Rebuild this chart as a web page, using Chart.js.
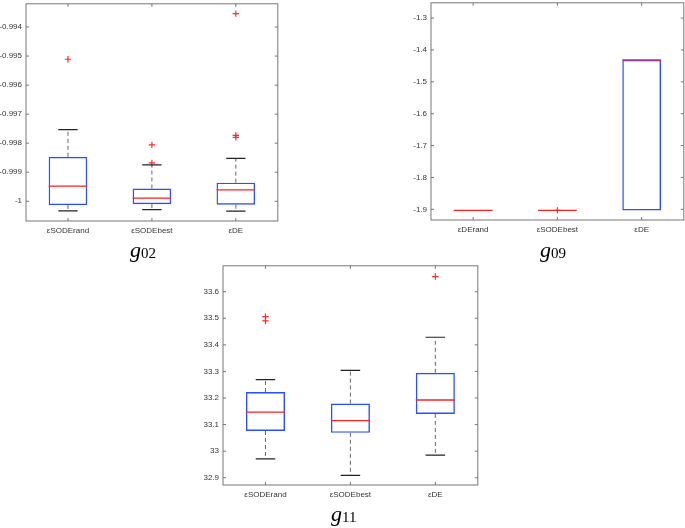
<!DOCTYPE html>
<html>
<head>
<meta charset="utf-8">
<script src="https://cdn.jsdelivr.net/npm/chart.js@4.4.0/dist/chart.umd.min.js"></script>
<style>
  body { margin:0; background:#fff; width:685px; height:528px; overflow:hidden; position:relative; }
  canvas { position:absolute; }
  .lbl { position:absolute; font-family:"Liberation Serif","Times New Roman",serif; color:#000; white-space:nowrap; line-height:22px; }
  .lbl i { font-size:22px; }
  .lbl span { font-size:15px; position:relative; top:1px; }
</style>
</head>
<body>
<canvas id="c1" width="283" height="246" style="left:0px;top:-5px"></canvas>
<canvas id="c2" width="298" height="246" style="left:391px;top:-6px"></canvas>
<canvas id="c3" width="300" height="248" style="left:183px;top:257px"></canvas>
<div class="lbl" style="left:130px;top:239px"><i>g</i><span>02</span></div>
<div class="lbl" style="left:540px;top:239px"><i>g</i><span>09</span></div>
<div class="lbl" style="left:331px;top:503px"><i>g</i><span>11</span></div>
<script>
// g02
const g02Labels = ['εSODErand', 'εSODEbest', 'εDE'];
const g02Min = [-1.00033, -1.00029, -1.00034];
const g02Q1  = [-1.00013, -1.00010, -1.00012];
const g02Med = [-0.99948, -0.99989, -0.99961];
const g02Q3  = [-0.99847, -0.99956, -0.99936];
const g02Max = [-0.99753, -0.99875, -0.99852];
const g02Out = [[-0.99511], [-0.99806, -0.99868], [-0.99354, -0.99773, -0.99780]];
const g02Ticks = [-1, -0.999, -0.998, -0.997, -0.996, -0.995, -0.994];
const g02Range = [-1.00068, -0.99320];

// g09
const g09Labels = ['εDErand', 'εSODEbest', 'εDE'];
const g09Min = [-1.9033, -1.9033, -1.9033];
const g09Q1  = [-1.9033, -1.9033, -1.9033];
const g09Med = [-1.9033, -1.9033, -1.4313];
const g09Q3  = [-1.9033, -1.9033, -1.4313];
const g09Max = [-1.9033, -1.9033, -1.4313];
const g09Out = [[], [-1.9033], []];
const g09Ticks = [-1.9, -1.8, -1.7, -1.6, -1.5, -1.4, -1.3];
const g09Range = [-1.9334, -1.2522];

// g11
const g11Labels = ['εSODErand', 'εSODEbest', 'εDE'];
const g11Min = [32.971, 32.909, 32.985];
const g11Q1  = [33.076, 33.069, 33.140];
const g11Med = [33.147, 33.115, 33.1925];
const g11Q3  = [33.2225, 33.179, 33.295];
const g11Max = [33.269, 33.304, 33.4286];
const g11Out = [[33.506, 33.490], [], [33.657]];
const g11Ticks = [32.9, 33, 33.1, 33.2, 33.3, 33.4, 33.5, 33.6];
const g11Range = [32.8726, 33.6975];

// box outline + inward ticks like matlab
const frame = {
  id: 'frame',
  afterDraw(chart) {
    const ctx = chart.ctx, a = chart.chartArea;
    const x = chart.scales.x, y = chart.scales.y;
    ctx.save();
    ctx.strokeStyle = '#777';
    ctx.lineWidth = 1;
    ctx.strokeRect(a.left, a.top, a.right - a.left, a.bottom - a.top);
    ctx.beginPath();
    y.ticks.forEach(t => {
      const py = y.getPixelForValue(t.value);
      ctx.moveTo(a.left, py); ctx.lineTo(a.left + 3, py);
      ctx.moveTo(a.right, py); ctx.lineTo(a.right - 3, py);
    });
    x.ticks.forEach((t, i) => {
      const px = x.getPixelForTick(i);
      ctx.moveTo(px, a.top); ctx.lineTo(px, a.top + 3);
      ctx.moveTo(px, a.bottom); ctx.lineTo(px, a.bottom - 3);
    });
    ctx.stroke();
    ctx.restore();
  }
};

// whiskers, caps and medians, placed from the bar elements
function boxParts(mins, meds, q1s, q3s, maxs) {
  return {
    id: 'boxParts',
    afterDatasetsDraw(chart) {
      const ctx = chart.ctx, y = chart.scales.y;
      const bars = chart.getDatasetMeta(0).data;
      ctx.save();
      bars.forEach((bar, i) => {
        const cx = bar.x, hw = bar.width / 2;
        const pMin = y.getPixelForValue(mins[i]);
        const pMax = y.getPixelForValue(maxs[i]);
        const pQ1 = y.getPixelForValue(q1s[i]);
        const pQ3 = y.getPixelForValue(q3s[i]);
        const pMed = y.getPixelForValue(meds[i]);
        ctx.setLineDash([4, 3]);
        ctx.strokeStyle = '#666';
        ctx.lineWidth = 1;
        ctx.beginPath();
        if (maxs[i] > q3s[i]) { ctx.moveTo(cx, pQ3); ctx.lineTo(cx, pMax); }
        if (mins[i] < q1s[i]) { ctx.moveTo(cx, pQ1); ctx.lineTo(cx, pMin); }
        ctx.stroke();
        ctx.setLineDash([]);
        ctx.strokeStyle = '#222';
        ctx.lineWidth = 1.2;
        ctx.beginPath();
        if (maxs[i] > q3s[i]) { ctx.moveTo(cx - hw / 2, pMax); ctx.lineTo(cx + hw / 2, pMax); }
        if (mins[i] < q1s[i]) { ctx.moveTo(cx - hw / 2, pMin); ctx.lineTo(cx + hw / 2, pMin); }
        ctx.stroke();
        ctx.strokeStyle = '#ff2020';
        ctx.lineWidth = 1.3;
        ctx.beginPath();
        ctx.moveTo(cx - hw, pMed); ctx.lineTo(cx + hw, pMed);
        ctx.stroke();
      });
      ctx.restore();
    }
  };
}

function drawBox(id, labels, mins, q1s, meds, q3s, maxs, outs, ticks, range, yw) {
  const outPts = [];
  outs.forEach((list, i) => list.forEach(v => outPts.push({x: labels[i], y: v})));
  const font = {family: '"Liberation Sans", Arial, sans-serif', size: 8};
  new Chart(document.getElementById(id), {
    type: 'bar',
    data: {
      labels: labels,
      datasets: [
        {
          data: q1s.map((q, i) => [q, q3s[i]]),
          backgroundColor: 'rgba(0,0,0,0)',
          borderColor: '#2a4dff',
          borderWidth: 1.4,
          borderSkipped: false,
          barPercentage: 0.46,
          categoryPercentage: 1
        },
        {
          type: 'line',
          data: outPts,
          showLine: false,
          pointStyle: 'cross',
          pointRadius: 3.2,
          pointBorderWidth: 1.2,
          borderColor: '#ff2a2a',
          backgroundColor: '#ff2a2a'
        }
      ]
    },
    options: {
      responsive: false,
      animation: false,
      layout: {padding: {top: 8, right: 2, left: 0, bottom: 0}},
      plugins: {legend: {display: false}, tooltip: {enabled: false}},
      scales: {
        x: {
          type: 'category',
          offset: true,
          grid: {display: false, drawTicks: false},
          border: {display: false},
          ticks: {font: font, color: '#333', padding: 5, maxRotation: 0},
          afterFit: s => { s.height = 20; }
        },
        y: {
          type: 'linear',
          min: range[0],
          max: range[1],
          grid: {display: false, drawTicks: false},
          border: {display: false},
          afterBuildTicks: s => { s.ticks = ticks.map(v => ({value: v})); },
          ticks: {font: font, color: '#333', padding: 4, callback: v => String(v)},
          afterFit: s => { s.width = yw; }
        }
      }
    },
    plugins: [frame, boxParts(mins, meds, q1s, q3s, maxs)]
  });
}

drawBox('c1', g02Labels, g02Min, g02Q1, g02Med, g02Q3, g02Max, g02Out, g02Ticks, g02Range, 26);
drawBox('c2', g09Labels, g09Min, g09Q1, g09Med, g09Q3, g09Max, g09Out, g09Ticks, g09Range, 40);
drawBox('c3', g11Labels, g11Min, g11Q1, g11Med, g11Q3, g11Max, g11Out, g11Ticks, g11Range, 40);
</script>
</body>
</html>
